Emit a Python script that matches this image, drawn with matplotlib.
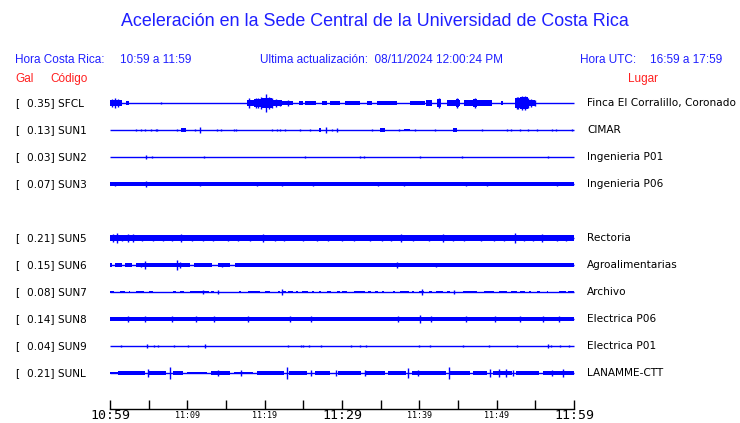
import matplotlib
matplotlib.use("Agg")
import matplotlib.pyplot as plt

# ---------------- data ----------------
CODES = ["SFCL", "SUN1", "SUN2", "SUN3", "SUN5", "SUN6", "SUN7", "SUN8", "SUN9", "SUNL"]
PEAKS = ["0.35", "0.13", "0.03", "0.07", "0.21", "0.15", "0.08", "0.14", "0.04", "0.21"]
PLACES = ["Finca El Corralillo, Coronado", "CIMAR", "Ingenieria P01", "Ingenieria P06",
          "Rectoria", "Agroalimentarias", "Archivo", "Electrica P06", "Electrica P01",
          "LANAMME-CTT"]

TICK_MIN = [0, 5, 10, 15, 20, 25, 30, 35, 40, 45, 50, 55, 60]
TICK_LABELS = {0: "10:59", 10: "11:09", 20: "11:19", 30: "11:29", 40: "11:39", 50: "11:49", 60: "11:59"}
BIG_LABELS = [0, 30, 60]

# envelope segments (start_min, end_min, half amplitude) and spikes (min, half amplitude)
SFCL_BANDS = [(0.0, 1.5, 0.13), (2.1, 2.5, 0.06), (17.7, 18.6, 0.13), (18.6, 19.6, 0.16),
              (19.6, 21.0, 0.18), (21.0, 22.2, 0.13), (22.2, 23.7, 0.08), (24.4, 24.9, 0.07),
              (25.2, 26.6, 0.07), (27.4, 28.0, 0.06), (28.4, 29.7, 0.07), (30.4, 32.3, 0.07),
              (33.2, 33.9, 0.07), (34.5, 37.1, 0.08), (38.8, 40.7, 0.08), (40.9, 41.6, 0.11),
              (42.3, 42.8, 0.14), (43.6, 45.3, 0.11), (44.7, 45.1, 0.16), (45.8, 47.2, 0.1),
              (47.5, 49.4, 0.12), (47.0, 47.5, 0.16), (50.6, 50.8, 0.06), (52.4, 53.0, 0.18),
              (53.0, 54.0, 0.22), (54.0, 55.0, 0.13)]
SFCL_SPIKES = [(0.3, 0.16), (0.7, 0.18), (1.0, 0.16), (6.6, 0.04), (18.0, 0.18), (18.9, 0.2),
               (19.2, 0.18), (19.5, 0.25), (20.2, 0.35), (20.6, 0.25), (21.0, 0.2),
               (21.5, 0.17), (22.0, 0.13), (23.0, 0.1), (42.5, 0.2), (44.9, 0.2), (47.2, 0.2),
               (52.6, 0.22), (52.8, 0.24), (53.3, 0.29), (53.6, 0.26), (54.0, 0.2),
               (54.4, 0.16), (55.0, 0.1)]

SUN1_BANDS = [(9.2, 9.8, 0.07), (27.0, 27.3, 0.06), (34.9, 35.6, 0.06), (44.4, 44.9, 0.06),
              (38.0, 38.8, 0.04)]
SUN1_SPIKES = [(3.3, 0.05), (4.0, 0.05), (4.5, 0.05), (5.3, 0.05), (5.9, 0.05), (6.1, 0.05),
               (8.7, 0.05), (11.0, 0.05), (11.6, 0.13), (13.9, 0.05), (14.3, 0.05),
               (16.0, 0.05), (16.3, 0.05), (21.0, 0.05), (21.6, 0.05), (22.0, 0.05),
               (22.6, 0.05), (24.6, 0.05), (25.9, 0.05), (27.9, 0.13), (28.7, 0.05),
               (29.3, 0.06), (33.9, 0.05), (37.4, 0.05), (39.5, 0.05), (42.0, 0.05),
               (48.1, 0.05), (51.3, 0.05), (51.9, 0.05), (53.0, 0.05), (54.0, 0.05),
               (55.2, 0.05), (57.2, 0.05), (57.7, 0.05), (59.7, 0.05)]

SUN2_BANDS = []
SUN2_SPIKES = [(4.7, 0.08), (5.4, 0.04), (12.2, 0.03), (25.2, 0.03), (32.3, 0.03),
               (32.8, 0.03), (40.1, 0.03), (45.5, 0.03), (56.6, 0.03)]

SUN3_BANDS = [(0.0, 60.0, 0.06)]
SUN3_SPIKES = [(0.6, 0.08), (4.7, 0.12), (11.7, 0.07), (19.0, 0.07), (22.3, 0.07),
               (26.3, 0.07), (34.6, 0.08), (38.0, 0.07), (46.0, 0.07), (48.7, 0.07),
               (57.8, 0.07)]

SUN5_BANDS = [(0.0, 60.0, 0.105), (0.0, 3.0, 0.115), (34.0, 36.0, 0.115), (54.0, 57.0, 0.115)]
SUN5_SPIKES = [(0.4, 0.14), (0.9, 0.19), (1.6, 0.13), (2.3, 0.15), (3.0, 0.14), (4.1, 0.12),
               (5.5, 0.13), (6.8, 0.12), (8.0, 0.12), (9.2, 0.14), (10.6, 0.12), (12.0, 0.12),
               (13.3, 0.13), (15.2, 0.12), (16.6, 0.13), (18.1, 0.12), (19.8, 0.14),
               (21.3, 0.12), (22.5, 0.13), (25.0, 0.13), (26.8, 0.12), (28.2, 0.12),
               (30.0, 0.12), (31.6, 0.12), (33.6, 0.13), (35.2, 0.13), (36.4, 0.12),
               (37.6, 0.15), (39.2, 0.13), (41.2, 0.12), (43.0, 0.17), (44.4, 0.13),
               (45.8, 0.12), (48.0, 0.12), (49.6, 0.13), (51.0, 0.12), (52.4, 0.19),
               (53.5, 0.13), (54.7, 0.13), (55.9, 0.14), (57.8, 0.12), (59.0, 0.12)]

SUN6_BANDS = [(0.0, 0.3, 0.06), (0.6, 1.5, 0.06), (2.0, 2.8, 0.06), (3.3, 10.3, 0.065),
              (10.9, 13.2, 0.065), (14.0, 15.5, 0.065), (16.2, 60.0, 0.065)]
SUN6_SPIKES = [(4.5, 0.14), (4.0, 0.08), (8.6, 0.19), (9.0, 0.1), (14.5, 0.07),
               (37.1, 0.1), (42.2, 0.08)]

SUN7_BANDS = [(s, e, 0.05) for s, e in [
    (0.0, 0.5), (1.3, 2.0), (2.4, 2.6), (3.4, 4.4), (5.0, 5.5), (8.2, 8.5), (9.0, 9.6),
    (10.3, 12.8), (13.0, 13.4), (16.7, 17.0), (17.8, 19.4), (20.0, 20.7), (21.7, 22.0),
    (22.3, 22.7), (23.0, 23.6), (24.0, 24.3), (24.8, 25.6), (26.1, 26.4), (27.0, 27.3),
    (28.0, 28.6), (29.3, 29.7), (30.0, 30.6), (31.5, 33.0), (33.4, 33.7), (34.3, 34.6),
    (35.2, 35.4), (36.6, 36.9), (37.5, 38.6), (39.0, 39.3), (40.0, 40.6), (41.3, 41.6),
    (42.2, 43.0), (43.6, 44.0), (45.6, 47.4), (48.3, 49.7), (50.3, 51.3), (51.9, 52.6),
    (53.0, 53.6), (54.2, 54.4), (55.2, 55.6), (56.5, 56.7), (58.0, 59.0), (59.2, 60.0)]]
SUN7_SPIKES = [(22.2, 0.11), (40.3, 0.13), (12.0, 0.07), (14.0, 0.06), (44.5, 0.06)]

SUN8_BANDS = [(0.0, 60.0, 0.075), (2.5, 4.0, 0.09), (4.5, 7.0, 0.09), (10.5, 13.0, 0.09),
              (18.5, 25.0, 0.09), (26.5, 28.0, 0.09), (43.7, 46.0, 0.09), (50.5, 54.0, 0.09),
              (55.0, 58.5, 0.09)]
SUN8_SPIKES = [(2.3, 0.11), (4.5, 0.11), (8.0, 0.1), (11.1, 0.13), (13.5, 0.1), (17.9, 0.13),
               (23.3, 0.13), (26.0, 0.1), (37.2, 0.11), (40.1, 0.15), (41.5, 0.11),
               (46.0, 0.1), (49.8, 0.1), (53.0, 0.11), (56.0, 0.11), (58.0, 0.1)]

SUN9_BANDS = []
SUN9_SPIKES = [(1.4, 0.04), (4.8, 0.06), (5.7, 0.04), (6.2, 0.04), (8.3, 0.04), (10.1, 0.04),
               (12.3, 0.06), (23.0, 0.04), (24.7, 0.04), (25.0, 0.04), (25.7, 0.04),
               (27.3, 0.04), (31.2, 0.04), (32.3, 0.04), (33.1, 0.04), (40.0, 0.04),
               (41.4, 0.04), (45.6, 0.04), (49.0, 0.04), (52.6, 0.04), (56.6, 0.06),
               (57.0, 0.04), (58.2, 0.04), (59.4, 0.04)]

SUNL_BANDS = [(0.0, 1.0, 0.04), (1.0, 4.5, 0.07), (5.0, 7.3, 0.06), (8.2, 9.5, 0.06),
              (10.0, 12.5, 0.05), (13.0, 15.5, 0.06), (16.0, 18.5, 0.05), (19.0, 22.5, 0.06),
              (23.2, 25.5, 0.06), (26.5, 28.5, 0.06), (29.5, 32.5, 0.06), (33.0, 35.5, 0.07),
              (36.0, 38.3, 0.07), (39.0, 43.5, 0.07), (44.0, 46.5, 0.06), (47.0, 48.8, 0.06),
              (49.5, 52.0, 0.07), (52.5, 55.5, 0.06), (56.0, 60.0, 0.08)]
SUNL_SPIKES = [(4.9, 0.14), (7.8, 0.24), (14.0, 0.1), (17.0, 0.1), (22.9, 0.24), (26.0, 0.12),
               (29.2, 0.12), (33.0, 0.1), (38.5, 0.2), (39.8, 0.12), (43.8, 0.24),
               (49.1, 0.16), (50.3, 0.14), (51.2, 0.16), (52.1, 0.12), (57.2, 0.12),
               (58.6, 0.16)]

BANDS = [SFCL_BANDS, SUN1_BANDS, SUN2_BANDS, SUN3_BANDS, SUN5_BANDS, SUN6_BANDS,
         SUN7_BANDS, SUN8_BANDS, SUN9_BANDS, SUNL_BANDS]
SPIKES = [SFCL_SPIKES, SUN1_SPIKES, SUN2_SPIKES, SUN3_SPIKES, SUN5_SPIKES, SUN6_SPIKES,
          SUN7_SPIKES, SUN8_SPIKES, SUN9_SPIKES, SUNL_SPIKES]

# ---------------- layout ----------------
W, H = 740, 423
SLOTS = [0, 1, 2, 3, 5, 6, 7, 8, 9, 10]   # SUN4 slot left empty
ROW_PX = 27
Y0_PX = 103
PX_PER_UNIT = 25.7
X_LEFT, X_RIGHT = 110, 574
BLUE = "#1f1fff"
RED = "#ff1f1f"
TRACE = "#0000ff"
LBL = 7.6

fig = plt.figure(figsize=(W / 100, H / 100), dpi=100)


def fx(x):
    return x / W


def fy(y):
    return 1 - y / H


# trace axes
top_px, bot_px = 80, 395
ax = fig.add_axes([fx(X_LEFT), fy(bot_px), (X_RIGHT - X_LEFT) / W, (bot_px - top_px) / H])
ax.set_xlim(0, 60)
ax.set_ylim((Y0_PX - bot_px) / PX_PER_UNIT, (Y0_PX - top_px) / PX_PER_UNIT)
ax.axis("off")

for i, code in enumerate(CODES):
    base = -SLOTS[i] * ROW_PX / PX_PER_UNIT
    ax.plot([0, 60], [base, base], color=TRACE, lw=1.0, solid_capstyle="butt", clip_on=False)
    for s, e, a in BANDS[i]:
        ax.fill_between([s, e], base - a, base + a, color=TRACE, lw=0, clip_on=False)
    for m, a in SPIKES[i]:
        ax.vlines(m, base - a, base + a, color=TRACE, lw=1.0, clip_on=False)
    ypx = Y0_PX + SLOTS[i] * ROW_PX
    fig.text(fx(15), fy(ypx), "[", fontsize=LBL, family="DejaVu Sans", va="center", ha="left")
    fig.text(fx(27), fy(ypx), PEAKS[i] + "] " + code, fontsize=LBL, family="DejaVu Sans",
             va="center", ha="left")
    fig.text(fx(587), fy(ypx), PLACES[i], fontsize=LBL, family="DejaVu Sans", va="center", ha="left")

# time axis
ax2 = fig.add_axes([fx(X_LEFT), fy(409), (X_RIGHT - X_LEFT) / W, 14 / H])
ax2.set_xlim(0, 60)
ax2.set_ylim(0, 1)
ax2.patch.set_visible(False)
for sp in ["top", "left", "right"]:
    ax2.spines[sp].set_visible(False)
ax2.spines["bottom"].set_linewidth(1.0)
ax2.set_yticks([])
ax2.set_xticks(TICK_MIN)
ax2.set_xticklabels([])
ax2.tick_params(axis="x", direction="in", length=6.5, width=1.0, color="black")
for m, lab in TICK_LABELS.items():
    big = m in BIG_LABELS
    ax2.text(m, (409 - 415) / 14, lab, transform=ax2.get_xaxis_transform(),
             ha="center", va="center", family="DejaVu Sans Mono",
             fontsize=9.5 if big else 6, color="black")

# header texts
fig.text(fx(375), fy(22), "Aceleración en la Sede Central de la Universidad de Costa Rica",
         ha="center", va="center", fontsize=12.9, color=BLUE, family="Liberation Sans")
fig.text(fx(15), fy(60), "Hora Costa Rica:", ha="left", va="center", fontsize=8.5,
         color=BLUE, family="Liberation Sans")
fig.text(fx(120), fy(60), "10:59 a 11:59", ha="left", va="center", fontsize=8.5,
         color=BLUE, family="Liberation Sans")
fig.text(fx(260), fy(60), "Ultima actualización:  08/11/2024 12:00:24 PM", ha="left",
         va="center", fontsize=8.5, color=BLUE, family="Liberation Sans")
fig.text(fx(580), fy(60), "Hora UTC:", ha="left", va="center", fontsize=8.5,
         color=BLUE, family="Liberation Sans")
fig.text(fx(650), fy(60), "16:59 a 17:59", ha="left", va="center", fontsize=8.5,
         color=BLUE, family="Liberation Sans")
fig.text(fx(15), fy(79), "Gal", ha="left", va="center", fontsize=8.5, color=RED,
         family="Liberation Sans")
fig.text(fx(50), fy(79), "Código", ha="left", va="center", fontsize=8.5, color=RED,
         family="Liberation Sans")
fig.text(fx(628), fy(79), "Lugar", ha="left", va="center", fontsize=8.5, color=RED,
         family="Liberation Sans")

fig.savefig("out.png", dpi=100)
